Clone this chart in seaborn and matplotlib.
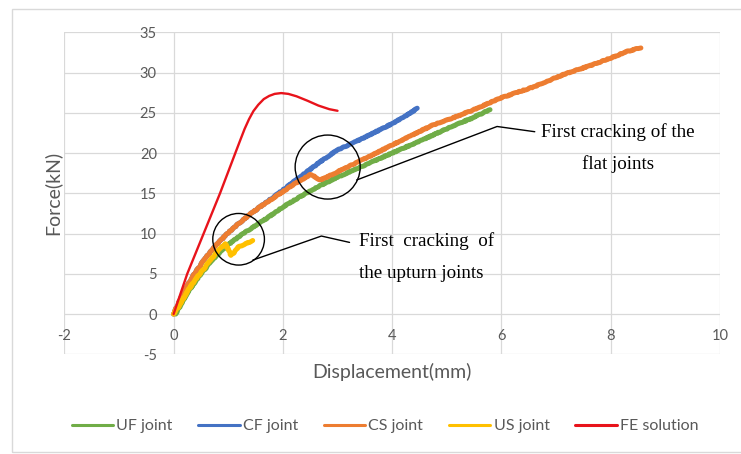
import matplotlib
matplotlib.use("Agg")
import matplotlib.pyplot as plt
from matplotlib.patches import Ellipse, Rectangle
from matplotlib.lines import Line2D
import numpy as np
import pandas as pd
import seaborn as sns

# Load-displacement curves (displacement in mm, force in kN)
uf_disp = [0.04, 0.25, 0.5, 0.75, 1.0, 1.25, 1.5, 1.75, 2.0, 2.3, 2.64, 3.0, 3.3, 3.6, 4.0, 4.48, 5.09, 5.45, 5.79]
uf_force = [0.0, 2.6, 5.0, 7.0, 8.6, 9.9, 11.0, 12.1, 13.3, 14.5, 15.8, 17.0, 17.9, 18.8, 20.0, 21.4, 23.3, 24.3, 25.4]

cf_disp = [0.0, 0.2, 0.4, 0.6, 0.8, 1.0, 1.2, 1.4, 1.6, 1.8, 2.0, 2.28, 2.68, 3.0, 3.3, 3.6, 3.9, 4.2, 4.46]
cf_force = [0.0, 2.9, 5.2, 7.1, 8.7, 10.1, 11.3, 12.4, 13.4, 14.4, 15.4, 16.85, 18.9, 20.4, 21.3, 22.3, 23.3, 24.4, 25.55]

cs_disp = [0.0, 0.2, 0.4, 0.6, 0.8, 1.0, 1.2, 1.4, 1.6, 1.8, 2.0, 2.2, 2.4, 2.5, 2.56, 2.62, 2.7, 2.8, 2.95,
           3.25, 3.56, 4.0, 4.48, 4.75, 5.09, 5.5, 5.97, 6.58, 7.19, 7.6, 8.0, 8.29, 8.55]
cs_force = [0.0, 2.9, 5.2, 7.1, 8.7, 10.1, 11.3, 12.4, 13.4, 14.3, 15.2, 16.1, 16.9, 17.3, 17.2, 16.8, 16.7, 17.0, 17.5,
            18.5, 19.5, 21.0, 22.6, 23.5, 24.3, 25.4, 26.8, 28.2, 29.9, 30.8, 31.8, 32.6, 33.1]

us_disp = [0.0, 0.1, 0.25, 0.4, 0.55, 0.7, 0.85, 0.95, 1.0, 1.05, 1.1, 1.18, 1.3, 1.45]
us_force = [0.0, 1.0, 2.8, 4.3, 5.6, 6.9, 8.1, 8.7, 8.0, 7.3, 7.6, 8.3, 8.7, 9.1]

fe_disp = [0.0, 0.25, 0.55, 0.85, 1.13, 1.22, 1.3, 1.38, 1.46, 1.55, 1.65, 1.75, 1.85, 1.97,
           2.1, 2.25, 2.45, 2.65, 2.85, 3.0]
fe_force = [0.0, 5.0, 10.0, 15.0, 20.0, 21.6, 23.0, 24.2, 25.2, 26.0, 26.7, 27.1, 27.35, 27.45,
            27.35, 27.05, 26.5, 25.9, 25.45, 25.25]

series_names = ["UF joint", "CF joint", "CS joint", "US joint", "FE solution"]
series_colors = ["#70AD47", "#4472C4", "#ED7D31", "#FFC000", "#E8131B"]
series_widths = [3.6, 3.6, 3.6, 3.6, 1.7]

x_ticks = [-2, 0, 2, 4, 6, 8, 10]
y_ticks = [-5, 0, 5, 10, 15, 20, 25, 30, 35]

frames = []
for name, xs, ys in zip(series_names,
                        [uf_disp, cf_disp, cs_disp, us_disp, fe_disp],
                        [uf_force, cf_force, cs_force, us_force, fe_force]):
    frames.append(pd.DataFrame({"disp": xs, "force": ys, "series": name}))
data = pd.concat(frames, ignore_index=True)

sns.set_theme(style="white")
plt.rcParams["font.family"] = ["Lato", "DejaVu Sans"]

W, H = 741, 454
fig = plt.figure(figsize=(W / 100, H / 100), dpi=100)
fig.patch.set_facecolor("white")

# light frame around the whole chart
fig.patches.append(Rectangle((12 / W, 2 / H), (W + 10) / W, (H - 11) / H,
                             transform=fig.transFigure, fill=False,
                             edgecolor="#D9D9D9", linewidth=1.0, zorder=0))

ax = fig.add_axes([64.3 / W, (H - 354.3) / H, (720 - 64.3) / W, (354.3 - 32.3) / H])
ax.set_facecolor("white")

for i, (name, color, lw) in enumerate(zip(series_names, series_colors, series_widths)):
    sub = data[data["series"] == name]
    sns.lineplot(data=sub, x="disp", y="force", ax=ax, color=color, linewidth=lw,
                 sort=False, estimator=None, legend=False, zorder=3 + i,
                 solid_capstyle="round", solid_joinstyle="round")
    line = ax.lines[-1]
    if name != "FE solution":
        # measured curves have a slightly ragged trace
        line.set_sketch_params(scale=0.4, length=2.5, randomness=10)

ax.set_xlim(-2, 10)
ax.set_ylim(-5, 35)
ax.set_xticks(x_ticks)
ax.set_yticks(y_ticks)
ax.set_xticklabels([str(v) for v in x_ticks])
ax.set_yticklabels([str(v) for v in y_ticks])
ax.grid(True, color="#D9D9D9", linewidth=0.9)
ax.set_axisbelow(True)
for s in ax.spines.values():
    s.set_visible(False)
ax.spines["bottom"].set_position(("data", 0))
ax.spines["left"].set_position(("data", 0))
ax.tick_params(axis="x", length=0, pad=11, labelsize=10.5, labelcolor="#595959")
ax.tick_params(axis="y", length=0, pad=12, labelsize=10.5, labelcolor="#595959")
ax.set_xlabel("")
ax.set_ylabel("")

fig.text(52 / W, 1 - 193 / H, "Force(kN)", rotation=90, ha="center", va="center",
         fontsize=14, color="#595959")
fig.text(392 / W, 1 - 372 / H, "Displacement(mm)", ha="center", va="center",
         fontsize=14, color="#595959")

# callout circles and leader lines
ax.add_patch(Ellipse((2.82, 18.26), 65 / 54.6, 64 / 8.05, fill=False,
                     edgecolor="black", linewidth=1.0, zorder=10))
ax.add_patch(Ellipse((1.19, 9.29), 51.6 / 54.6, 51.6 / 8.05, fill=False,
                     edgecolor="black", linewidth=1.0, zorder=10))
ax.plot([3.35, 5.92, 6.61], [16.65, 23.3, 22.65], color="black", linewidth=1.0, zorder=10)
ax.plot([1.45, 2.705, 3.22], [6.7, 9.69, 8.9], color="black", linewidth=1.0, zorder=10)

serif = ["Liberation Serif", "DejaVu Serif"]
ax.text(8.13, 22.6, "First cracking of the", family=serif, fontsize=13.7,
        ha="center", va="center", color="black", zorder=11)
ax.text(8.13, 18.6, "flat joints", family=serif, fontsize=13.7,
        ha="center", va="center", color="black", zorder=11)
ax.text(3.39, 9.07, "First  cracking  of", family=serif, fontsize=13.7,
        ha="left", va="center", color="black", zorder=11)
ax.text(3.39, 5.09, "the upturn joints", family=serif, fontsize=13.7,
        ha="left", va="center", color="black", zorder=11)

handles = [Line2D([], [], color=c, linewidth=2.2) for c in series_colors]
leg = fig.legend(handles, series_names, loc="center", ncol=5,
                 bbox_to_anchor=(385 / W, 1 - 426 / H), frameon=False,
                 fontsize=11.5, handlelength=2.6, handletextpad=0.2,
                 columnspacing=1.6)
for t in leg.get_texts():
    t.set_color("#595959")

fig.savefig("out.png", dpi=100)
